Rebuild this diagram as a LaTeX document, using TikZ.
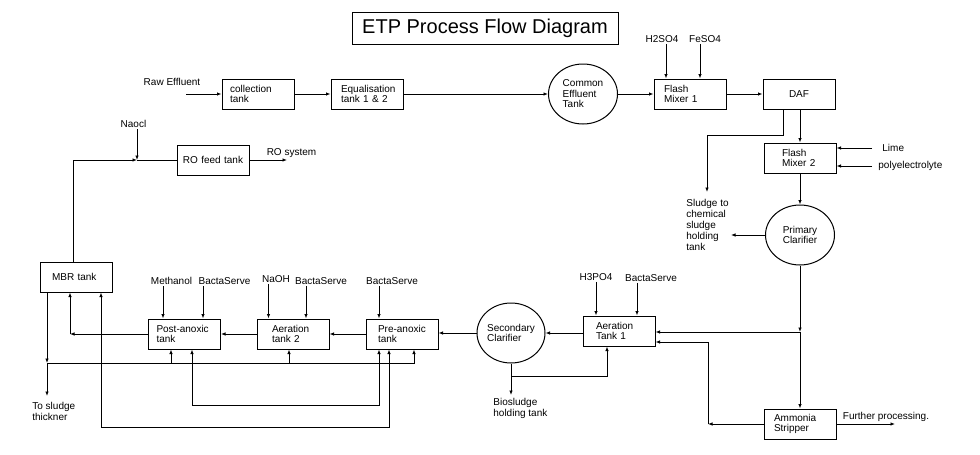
\documentclass[tikz,border=0pt]{standalone}
\usepackage{fontspec}
\setmainfont{Liberation Sans}
\usetikzlibrary{arrows.meta,shapes.geometric}

\begin{document}
\begin{tikzpicture}[
  x=1pt,y=-1pt,
  every node/.style={font=\fontsize{10}{10.5}\selectfont},
  tank/.style={draw,rectangle,line width=1pt,minimum width=72pt,minimum height=30pt,align=left,inner ysep=2pt,inner xsep=11pt,text width=50pt},
  vessel/.style={draw,ellipse,line width=1pt,minimum width=69pt,minimum height=60pt,align=left,inner sep=0pt},
  chem/.style={inner sep=1pt},
  note/.style={inner sep=1pt,anchor=north west,align=left,font=\fontsize{10}{11}\selectfont},
  every path/.style={line width=0.8pt,>={Latex[length=4.5pt,width=3.5pt]}},
  ]
  \useasboundingbox (0,0) rectangle (980,455);
  \node[draw,line width=1pt,minimum width=266pt,minimum height=32pt,font=\fontsize{20}{24}\selectfont](title) at (485,28){ETP Process Flow Diagram};
  % main line
  \node[tank,inner xsep=8pt,text width=56pt](coll) at (258,94){collection\\tank};
  \node[tank,inner xsep=10pt,text width=52pt](equal) at (367,94){Equalisation\\tank 1 \& 2};
  \node[vessel](cet) at (583,94){Common\\Effluent\\Tank};
  \node[tank,inner xsep=10pt,text width=52pt](fm1) at (690,94){Flash\\Mixer 1};
  \node[tank,align=center,inner xsep=2pt,text width=68pt](daf) at (799,94){DAF};
  \node[tank,inner xsep=18pt,text width=36pt](fm2) at (800,158){Flash\\Mixer 2};
  \node[vessel,align=center](pc) at (800,235){Primary\\Clarifier};
  \node[tank,inner xsep=10pt,text width=52pt](amm) at (800,424){Ammonia\\Stripper};
  % biological line
  \node[tank,inner xsep=13pt,text width=46pt](at1) at (619,331){Aeration\\Tank 1};
  \node[vessel,minimum width=68pt](sc) at (511,333){Secondary\\Clarifier};
  \node[tank,inner xsep=12pt,text width=48pt](pre) at (402,334){Pre-anoxic\\tank};
  \node[tank,inner xsep=15pt,text width=42pt](at2) at (293,334){Aeration\\tank 2};
  \node[tank,inner xsep=8pt,text width=56pt](post) at (184.5,334){Post-anoxic\\tank};
  \node[tank,inner xsep=12pt,text width=48pt](mbr) at (76,277){MBR tank};
  \node[tank,align=center,inner xsep=2pt,text width=68pt](ro) at (213,160){RO feed tank};
  % dosing and outlets
  \node[chem](raw) at (172,82){Raw Effluent};
  \node[chem](h2so4) at (662,39){H2SO4};
  \node[chem](feso4) at (705,39){FeSO4};
  \node[chem,anchor=west](lime) at (881,148){Lime};
  \node[chem,anchor=west](poly) at (877,166){polyelectrolyte};
  \node[chem](h3po4) at (596,277){H3PO4};
  \node[chem](bs1) at (651,278){BactaServe};
  \node[chem](bs2) at (392,281){BactaServe};
  \node[chem](bs3) at (321,281){BactaServe};
  \node[chem](naoh) at (276,279){NaOH};
  \node[chem](bs4) at (224.5,281){BactaServe};
  \node[chem](meth) at (171.5,281){Methanol};
  \node[chem](naocl) at (133.5,124){Naocl};
  \node[chem](rosys) at (291.5,153){RO system};
  \node[chem](further) at (886,417){Further processing.};
  \node[note](sludge) at (685,198){Sludge to\\chemical\\sludge\\holding\\tank};
  \node[note](bio) at (492,397){Biosludge\\holding tank};
  \node[note](thick) at (31,401){To sludge\\thickner};
  \coordinate(rawin) at (186,94);
  \coordinate(sludgeout) at (707,192);
  \coordinate(pcout) at (731,235);
  \coordinate(j1) at (800,332);
  \coordinate(j2) at (708,424);
  \coordinate(furout) at (895,424);
  \coordinate(j3) at (511,376);
  \coordinate(bioout) at (511,395);
  \coordinate(j4) at (70,334);
  \coordinate(j5) at (137,160);
  \coordinate(roout) at (287,160);
  \coordinate(j6) at (47,363);
  \coordinate(thickout) at (47,396);
  \path[->]
  (rawin) edge (coll)
  (coll) edge (equal)
  (equal) edge (cet)
  (cet) edge (fm1)
  (fm1) edge (daf)
  ([xshift=4pt]h2so4.south) edge ([xshift=4pt]h2so4.south |- fm1.north)
  ([xshift=-5pt]feso4.south) edge ([xshift=-5pt]feso4.south |- fm1.north)
  (fm2.north |- daf.south) edge (fm2)
  ([xshift=-9pt]lime.west) edge (fm2.east |- lime.west)
  ([xshift=-5pt]poly.west) edge (fm2.east |- poly.west)
  (fm2) edge (pc)
  (pc) edge (pcout)
  (pc) edge (j1)
  (j1) edge (amm)
  (j1) edge (j1 -| at1.east)
  (amm) edge (j2)
  (amm) edge (furout)
  (h3po4.south) edge (h3po4.south |- at1.north)
  ([xshift=-14pt]bs1.south) edge ([xshift=-14pt]bs1.south |- at1.north)
  (sc -| at1.west) edge (sc)
  (sc) edge (bioout)
  (sc) edge (sc -| pre.east)
  ([xshift=-13pt]bs2.south) edge ([xshift=-13pt]bs2.south |- pre.north)
  (pre) edge (at2)
  ([xshift=-7.5pt]naoh.south) edge ([xshift=-7.5pt]naoh.south |- at2.north)
  ([xshift=-15pt]bs3.south) edge ([xshift=-15pt]bs3.south |- at2.north)
  (at2) edge (post)
  ([xshift=-8.5pt]meth.south) edge ([xshift=-8.5pt]meth.south |- post.north)
  ([xshift=-21.5pt]bs4.south) edge ([xshift=-21.5pt]bs4.south |- post.north)
  (post) edge (j4)
  (j4) edge (j4 |- mbr.south)
  (naocl.south -| j5) edge (j5)
  (ro) edge (roout)
  ([xshift=-29pt]mbr.south) edge (j6)
  (j6) edge (thickout)
  ([xshift=-13.5pt]post.south |- j6) edge ([xshift=-13.5pt]post.south)
  ([xshift=-4pt]at2.south |- j6) edge ([xshift=-4pt]at2.south);
  \draw[->] ([xshift=-16pt]daf.south) -- ++(0,26) -| (sludgeout);
  \draw[->] (j3) -| ([xshift=-12pt]at1.south);
  \draw[->] (j2) |- ([yshift=-11pt]at1.east);
  \draw[->] ([xshift=-3pt]mbr.north) |- (j5);
  \draw (j5) -- (ro);
  \draw[->] (j6) -| ([xshift=12pt]pre.south);
  \draw[<->] ([xshift=7.5pt]post.south) -- ++(0,56) -| ([xshift=-23pt]pre.south);
  \draw[<->] ([xshift=25pt]mbr.south) -- ++(0,135) -| ([xshift=-13pt]pre.south);
\end{tikzpicture}
\end{document}
